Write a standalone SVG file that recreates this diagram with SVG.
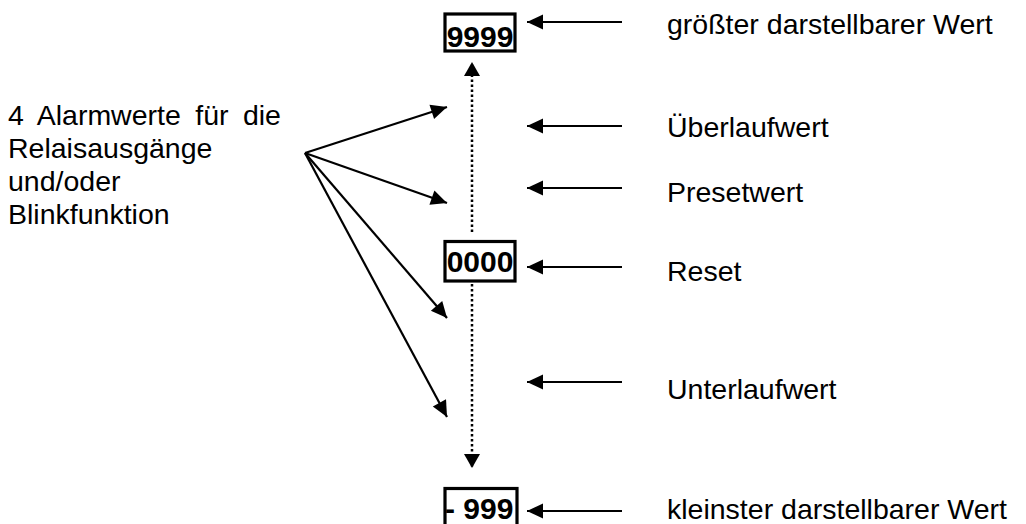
<svg xmlns="http://www.w3.org/2000/svg" width="1026" height="524" viewBox="0 0 1026 524">
  <style>
    .lbl { font-family: "Liberation Sans", Arial, sans-serif; font-size: 28.5px; fill: #000; }
    .num { font-family: "Liberation Sans", Arial, sans-serif; font-size: 30px; font-weight: bold; fill: #000; }
    .box { fill: #fff; stroke: #000; stroke-width: 3.2; }
    .arr { fill: none; stroke: #000; stroke-width: 2.2; marker-end: url(#ah); }
    .dot { fill: none; stroke: #000; stroke-width: 2.5; stroke-dasharray: 2.5 2.5; marker-end: url(#ahb); }
  </style>
  <defs>
    <marker id="ah" markerUnits="userSpaceOnUse" markerWidth="18" markerHeight="18" refX="16" refY="7.5" orient="auto" overflow="visible">
      <path d="M0,0 L16,7.5 L0,15 z" fill="#000"/>
    </marker>
    <marker id="ahb" markerUnits="userSpaceOnUse" markerWidth="18" markerHeight="18" refX="14" refY="8" orient="auto" overflow="visible">
      <path d="M0,0 L14,8 L0,16 z" fill="#000"/>
    </marker>
  </defs>
  <rect width="1026" height="524" fill="#fff"/>

  <g id="connectors">
    <line class="dot" x1="472" y1="232" x2="472" y2="62"/>
    <line class="dot" x1="472" y1="284" x2="472" y2="468"/>
    <line class="arr" x1="622" y1="22" x2="527" y2="22"/>
    <line class="arr" x1="622" y1="126" x2="527" y2="126"/>
    <line class="arr" x1="622" y1="188" x2="527" y2="188"/>
    <line class="arr" x1="622" y1="267" x2="527" y2="267"/>
    <line class="arr" x1="622" y1="382" x2="527" y2="382"/>
    <line class="arr" x1="622" y1="511" x2="527" y2="511"/>
    <line class="arr" x1="305" y1="153" x2="447" y2="107"/>
    <line class="arr" x1="305" y1="153" x2="447" y2="203"/>
    <line class="arr" x1="305" y1="153" x2="447" y2="318"/>
    <line class="arr" x1="305" y1="153" x2="447" y2="417"/>
  </g>

  <g id="node-9999">
    <rect class="box" x="445" y="14" width="70" height="37"/>
    <text class="num" x="480" y="46.5" text-anchor="middle">9999</text>
  </g>
  <g id="node-0000">
    <rect class="box" x="445" y="241.5" width="70" height="39.5"/>
    <text class="num" x="480" y="272" text-anchor="middle">0000</text>
  </g>
  <g id="node-m999">
    <rect class="box" x="445" y="488.5" width="72" height="40"/>
    <text class="num" x="445" y="519">- 999</text>
  </g>

  <g id="node-alarm">
    <text class="lbl" x="8" y="125" word-spacing="6.5">4 Alarmwerte für die</text>
    <text class="lbl" x="8" y="158">Relaisausgänge</text>
    <text class="lbl" x="8" y="191">und/oder</text>
    <text class="lbl" x="8" y="224">Blinkfunktion</text>
  </g>

  <g id="node-max"><text class="lbl" x="667" y="34">größter darstellbarer Wert</text></g>
  <g id="node-ueberlauf"><text class="lbl" x="667" y="137">Überlaufwert</text></g>
  <g id="node-preset"><text class="lbl" x="667" y="202">Presetwert</text></g>
  <g id="node-reset"><text class="lbl" x="667" y="281">Reset</text></g>
  <g id="node-unterlauf"><text class="lbl" x="667" y="399">Unterlaufwert</text></g>
  <g id="node-min"><text class="lbl" x="667" y="519">kleinster darstellbarer Wert</text></g>
</svg>
